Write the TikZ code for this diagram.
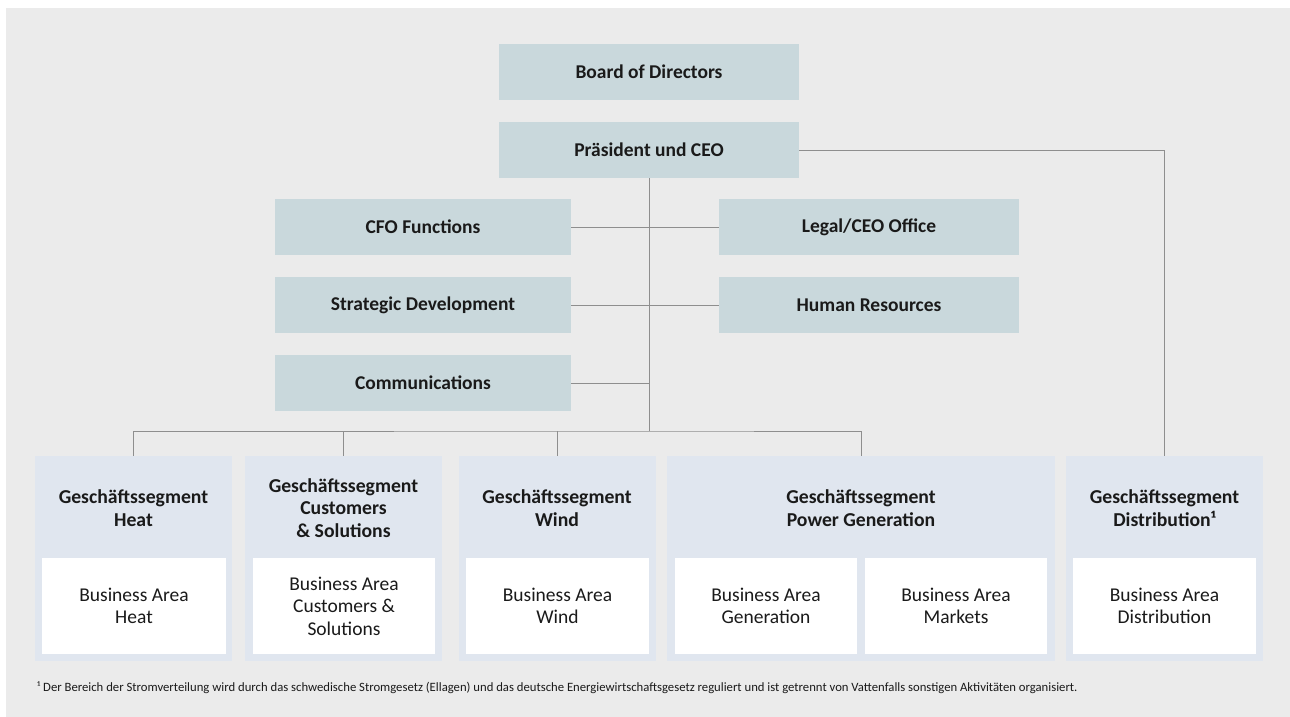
\documentclass[tikz,border=0pt]{standalone}
\usepackage{fontspec}
\setmainfont{Carlito}
\definecolor{bgGray}{HTML}{EBEBEB}
\definecolor{unitFill}{HTML}{C9D8DC}
\definecolor{segFill}{HTML}{E0E6EF}
\definecolor{lineGray}{HTML}{8E8E8E}
\definecolor{textDark}{HTML}{1A1A1A}
\tikzset{
  unit/.style={fill=unitFill, minimum width=300pt, minimum height=56pt,
    inner sep=0pt, text=textDark, font=\fontsize{19.5}{22.5}\selectfont\bfseries},
  segment/.style={fill=segFill, minimum width=197pt, minimum height=205pt,
    inner sep=0pt},
  segtitle/.style={align=center, text=textDark,
    font=\fontsize{19.7}{22.5}\selectfont\bfseries},
  area/.style={fill=white, minimum width=183pt, minimum height=96pt,
    inner sep=0pt, align=center, text=textDark,
    font=\fontsize{19.5}{22.5}\selectfont},
  conn/.style={draw=lineGray, line width=1pt}
}
\begin{document}
\begin{tikzpicture}[x=1pt,y=-1pt]
  % Hintergrund
  \useasboundingbox (0,0) rectangle (1290,717);
  \fill[bgGray] (6,8) rectangle (1290,717);

  % Leitung
  \node[unit] (board) at (649,72) {Board of Directors};
  \node[unit] (ceo) at (649,150) {Präsident und CEO};

  % Stabsfunktionen
  \node[unit, minimum width=296pt] (cfo) at (423,227) {CFO Functions};
  \node[unit] (legal) at (869,227) {Legal/CEO Office};
  \node[unit, minimum width=296pt] (strat) at (423,305) {Strategic Development};
  \node[unit] (hr) at (869,305) {Human Resources};
  \node[unit, minimum width=296pt] (comm) at (423,383) {Communications};

  % Geschaeftssegmente
  \node[segment] (heat) at (133.5,558.5) {};
  \node[segment] (cust) at (343.5,558.5) {};
  \node[segment] (wind) at (557,558.5) {};
  \node[segment, minimum width=388pt] (power) at (861,558.5) {};
  \node[segment] (dist) at (1164.5,558.5) {};

  % Titel der Segmente
  \node[segtitle] (heatT) at (133.5,508) {Geschäftssegment\\Heat};
  \node[segtitle] (custT) at (343.5,508) {Geschäftssegment\\Customers\\\& Solutions};
  \node[segtitle] (windT) at (557,508) {Geschäftssegment\\Wind};
  \node[segtitle] (powerT) at (861,508) {Geschäftssegment\\Power Generation};
  \node[segtitle] (distT) at (1164.5,508) {Geschäftssegment\\Distribution¹};

  % Business Areas
  \node[area, minimum width=184pt] (baHeat) at (134,606) {Business Area\\Heat};
  \node[area, minimum width=182pt] (baCust) at (344,606) {Business Area\\Customers \&\\Solutions};
  \node[area] (baWind) at (557.5,606) {Business Area\\Wind};
  \node[area, minimum width=182pt] (baGen) at (766,606) {Business Area\\Generation};
  \node[area, minimum width=182pt] (baMkt) at (956,606) {Business Area\\Markets};
  \node[area] (baDist) at (1164.5,606) {Business Area\\Distribution};

  % Verbindungen
  \coordinate (bus) at (649,431);
  \draw[conn] (ceo.south) -- (bus);
  \draw[conn] (cfo.east) -- (legal.west);
  \draw[conn] (strat.east) -- (hr.west);
  \draw[conn] (comm.east) -- (comm.east -| bus);
  \draw[conn] (heat.north) |- (bus) -| (power.north);
  \draw[conn] (cust.north) -- (cust.north |- bus);
  \draw[conn] (wind.north) -- (wind.north |- bus);
  \draw[conn] (ceo.east) -| (dist.north);

  % Fussnote
  \node[anchor=west, inner sep=0pt, text=textDark, font=\fontsize{12.7}{14}\selectfont]
    (note) at (37,688) {¹ Der Bereich der Stromverteilung wird durch das schwedische Stromgesetz (Ellagen) und das deutsche Energiewirtschaftsgesetz reguliert und ist getrennt von Vattenfalls sonstigen Aktivitäten organisiert.};
\end{tikzpicture}
\end{document}
